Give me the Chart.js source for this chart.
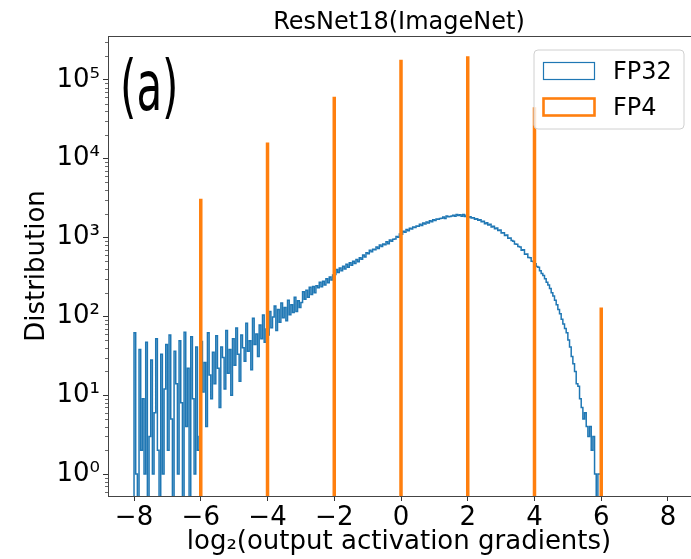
<!DOCTYPE html>
<html>
<head>
<meta charset="utf-8">
<script src="https://cdn.jsdelivr.net/npm/chart.js@4.4.1/dist/chart.umd.min.js"></script>
<style>
  html, body { margin: 0; padding: 0; background: #ffffff; overflow: hidden; }
  canvas { display: block; }
</style>
</head>
<body>
<canvas id="c" width="691" height="559"></canvas>
<script>
// ---------------- DATA ----------------
const chartTitle = 'ResNet18(ImageNet)';
const xAxisTitle = 'log\u2082(output activation gradients)';
const yAxisTitle = 'Distribution';
const panelLabel = '(a)';
const seriesLabels = ['FP32', 'FP4'];

// FP32 histogram: bins of equal width starting at fp32BinStart
const fp32BinStart = -8.0;
const fp32BinWidth = 0.05;
const fp32Counts = [
  // -8.00 .. -7.05
  62, 1, 0, 38, 2, 9, 1, 47, 0, 3, 28, 1, 6, 52, 2, 0, 33, 1, 12, 44,
  // -7.00 .. -6.05
  2, 58, 5, 0, 36, 14, 1, 49, 8, 0, 63, 4, 22, 0, 55, 9, 1, 41, 2, 3,
  // -6.00 .. -5.05
  48, 11, 26, 4, 62, 18, 9, 35, 14, 57, 22, 7, 41, 30, 12, 66, 19, 38, 10, 52,
  // -5.00 .. -4.05
  24, 71, 33, 15, 58, 40, 27, 82, 36, 49, 21, 95, 44, 60, 31, 78, 52, 104, 47, 69,
  // -4.00 .. -3.05
  58, 115, 72, 98, 135, 66, 122, 84, 148, 96, 130, 88, 160, 105, 140, 112, 175, 115, 158, 130,
  // -3.00 .. -2.05
  150, 205, 165, 215, 175, 235, 190, 240, 200, 245, 230, 270, 238, 280, 250, 300, 268, 315, 290, 335,
  // -2.00 .. -1.05
  340, 392, 360, 410, 378, 432, 400, 458, 420, 478, 445, 500, 468, 528, 492, 556, 530, 600, 568, 640,
  // -1.00 .. -0.05
  625, 690, 660, 712, 700, 760, 725, 805, 770, 830, 810, 885, 835, 930, 900, 950, 960, 1030, 1010, 1110,
  // 0.00 .. 0.95
  1100, 1200, 1170, 1265, 1215, 1310, 1280, 1360, 1340, 1405, 1390, 1470, 1420, 1530, 1490, 1580, 1530, 1630, 1590, 1680,
  // 1.00 .. 1.95
  1640, 1720, 1700, 1750, 1760, 1820, 1750, 1870, 1830, 1850, 1880, 1920, 1860, 1960, 1900, 1940, 1860, 1960, 1850, 1920,
  // 2.00 .. 2.95
  1790, 1830, 1770, 1780, 1700, 1730, 1660, 1680, 1590, 1610, 1500, 1540, 1440, 1470, 1360, 1390, 1290, 1320, 1230, 1250,
  // 3.00 .. 3.95
  1140, 1150, 1060, 1080, 980, 990, 920, 900, 830, 820, 770, 760, 690, 700, 615, 620, 560, 555, 500, 495,
  // 4.00 .. 4.95
  465, 430, 420, 380, 350, 330, 300, 270, 250, 225, 200, 182, 160, 140, 122, 108, 92, 80, 70, 62,
  // 5.00 .. 5.95
  50, 41, 31, 25, 20, 14, 13, 9, 7, 5, 6, 4, 3, 4, 2, 3, 1, 0, 1, 1
];

// FP4 histogram: all values fall on these levels
const fp4Levels = [-6, -4, -2, 0, 2, 4, 6];
const fp4Counts = [3100, 16000, 61000, 180000, 200000, 45000, 130];

// axes
const xMin = -8.78, xMax = 8.66;
const xTickValues = [-8, -6, -4, -2, 0, 2, 4, 6, 8];
const yMin = 0.527, yMax = 3.6e5;
const yTickExponents = [0, 1, 2, 3, 4, 5];

// ---------------- BUILD ----------------
const BLUE = '#1f77b4';
const ORANGE = '#ff7f0e';
const FONT = "'DejaVu Sans', 'Liberation Sans', sans-serif";
const SUP = {'0':'\u2070','1':'\u00b9','2':'\u00b2','3':'\u00b3','4':'\u2074','5':'\u2075','6':'\u2076','7':'\u2077','8':'\u2078','9':'\u2079','-':'\u207b'};
// empty bins cannot sit on a log axis: they are drawn down past the axis floor (clipped)
const FLOOR = 1e-3;
const onLog = (c) => (c > 0 ? c : FLOOR);

const fp32Points = [{x: fp32BinStart, y: FLOOR}];
fp32Counts.forEach((c, i) => fp32Points.push({x: fp32BinStart + i * fp32BinWidth, y: onLog(c)}));
fp32Points.push({x: fp32BinStart + fp32Counts.length * fp32BinWidth, y: FLOOR});

const fp4Points = [];
fp4Levels.forEach((lv, i) => {
  fp4Points.push({x: lv, y: FLOOR});
  fp4Points.push({x: lv, y: onLog(fp4Counts[i])});
  fp4Points.push({x: lv, y: null});
});

const extras = {
  id: 'extras',
  afterDatasetsDraw(chart) {
    const ctx = chart.ctx;
    const a = chart.chartArea;
    ctx.save();
    ctx.translate(a.left + 12, 110);
    ctx.scale(0.6, 1);
    ctx.fillStyle = '#000';
    ctx.font = "70px " + FONT;
    ctx.textBaseline = 'alphabetic';
    ctx.textAlign = 'left';
    ctx.fillText(panelLabel, 0, 0);
    ctx.restore();
  },
  afterDraw(chart) {
    const ctx = chart.ctx;
    const a = chart.chartArea;
    const ys = chart.scales.y;
    ctx.save();
    ctx.strokeStyle = '#444';
    ctx.lineWidth = 1;
    ctx.beginPath();
    ctx.moveTo(a.left, a.top + 0.5);
    ctx.lineTo(a.right + 2, a.top + 0.5);
    ctx.stroke();
    ctx.lineWidth = 0.8;
    for (let e = -1; e <= 5; e++) {
      for (let m = 2; m <= 9; m++) {
        const v = m * Math.pow(10, e);
        if (v < yMin || v > yMax) continue;
        const py = Math.round(ys.getPixelForValue(v)) + 0.5;
        ctx.beginPath();
        ctx.moveTo(a.left - 3, py);
        ctx.lineTo(a.left, py);
        ctx.stroke();
      }
    }
    ctx.restore();

    // legend (inside axes, upper right)
    const lx = 534, ly = 50, lw = 150, lh = 79, r = 4;
    ctx.save();
    ctx.beginPath();
    ctx.moveTo(lx + r, ly);
    ctx.lineTo(lx + lw - r, ly);
    ctx.arcTo(lx + lw, ly, lx + lw, ly + r, r);
    ctx.lineTo(lx + lw, ly + lh - r);
    ctx.arcTo(lx + lw, ly + lh, lx + lw - r, ly + lh, r);
    ctx.lineTo(lx + r, ly + lh);
    ctx.arcTo(lx, ly + lh, lx, ly + lh - r, r);
    ctx.lineTo(lx, ly + r);
    ctx.arcTo(lx, ly, lx + r, ly, r);
    ctx.closePath();
    ctx.fillStyle = 'rgba(255,255,255,0.8)';
    ctx.fill();
    ctx.strokeStyle = '#d0d0d0';
    ctx.lineWidth = 1;
    ctx.stroke();
    const ds = chart.data.datasets;
    const rows = [{y: 62, h: 17}, {y: 98, h: 17}];
    ds.forEach((d, i) => {
      ctx.strokeStyle = d.borderColor;
      ctx.lineWidth = i === 0 ? 1.2 : 2.6;
      ctx.strokeRect(543.5, rows[i].y + 0.5, 51, rows[i].h);
      ctx.fillStyle = '#000';
      ctx.font = "24px " + FONT;
      ctx.textBaseline = 'alphabetic';
      ctx.textAlign = 'left';
      ctx.fillText(d.label, 613, rows[i].y + rows[i].h);
    });
    ctx.restore();
  }
};

new Chart(document.getElementById('c'), {
  type: 'line',
  data: {
    datasets: [
      {
        label: seriesLabels[0],
        data: fp32Points,
        borderColor: BLUE,
        backgroundColor: 'rgba(0,0,0,0)',
        borderWidth: 1.5,
        stepped: 'before',
        pointRadius: 0,
        fill: false,
        order: 2
      },
      {
        label: seriesLabels[1],
        data: fp4Points,
        borderColor: ORANGE,
        backgroundColor: 'rgba(0,0,0,0)',
        borderWidth: 3.5,
        borderCapStyle: 'butt',
        stepped: false,
        spanGaps: false,
        pointRadius: 0,
        fill: false,
        order: 1
      }
    ]
  },
  options: {
    responsive: false,
    animation: false,
    devicePixelRatio: 1,
    layout: { padding: { left: 0, right: 1, top: 0, bottom: 0 } },
    plugins: {
      legend: { display: false },
      tooltip: { enabled: false },
      title: {
        display: true,
        text: chartTitle,
        fullSize: false,
        color: '#000',
        font: { family: FONT, size: 24, weight: 'normal', lineHeight: 1 },
        padding: { top: 11, bottom: 1 }
      }
    },
    scales: {
      x: {
        type: 'linear',
        min: xMin,
        max: xMax,
        afterBuildTicks: (s) => { s.ticks = xTickValues.map(v => ({value: v})); },
        afterFit: (s) => { s.height = 63; },
        ticks: {
          color: '#000',
          font: { family: FONT, size: 26 },
          padding: 2,
          maxRotation: 0,
          autoSkip: false,
          callback: (v) => String(v).replace('-', '\u2212')
        },
        grid: { display: true, drawOnChartArea: false, drawTicks: true, tickLength: 5, tickColor: '#333', tickWidth: 1 },
        border: { display: true, color: '#444', width: 1 },
        title: {
          display: true,
          text: xAxisTitle,
          color: '#000',
          font: { family: FONT, size: 26, lineHeight: 1.2 },
          padding: { top: 0, bottom: 1 }
        }
      },
      y: {
        type: 'logarithmic',
        min: yMin,
        max: yMax,
        afterBuildTicks: (s) => { s.ticks = yTickExponents.map(e => ({value: Math.pow(10, e), major: true})); },
        afterFit: (s) => { s.width = 108; },
        ticks: {
          color: '#000',
          font: { family: FONT, size: 26 },
          padding: 3,
          autoSkip: false,
          callback: (v) => {
            const e = Math.round(Math.log10(v));
            return '10' + String(e).split('').map(ch => SUP[ch]).join('');
          }
        },
        grid: { display: true, drawOnChartArea: false, drawTicks: true, tickLength: 5, tickColor: '#333', tickWidth: 1 },
        border: { display: true, color: '#444', width: 1 },
        title: {
          display: true,
          text: yAxisTitle,
          color: '#000',
          font: { family: FONT, size: 26, lineHeight: 1.2 },
          padding: { top: 22, bottom: 0 }
        }
      }
    }
  },
  plugins: [extras]
});
</script>
</body>
</html>
